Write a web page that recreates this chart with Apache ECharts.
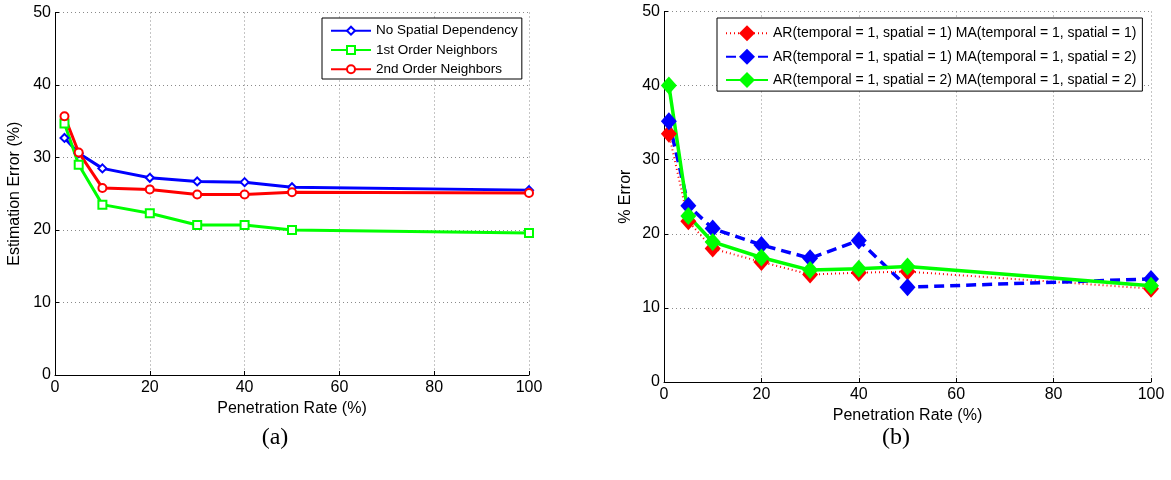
<!DOCTYPE html>
<html>
<head>
<meta charset="utf-8">
<script src="https://cdn.jsdelivr.net/npm/echarts@6/dist/echarts.min.js"></script>
<style>
html,body{margin:0;padding:0;background:#fff;}
#chart{width:1171px;height:480px;}
</style>
</head>
<body>
<div id="chart"></div>
<script>
// ---- Data: panel (a) ----
const penA = [2, 5, 10, 20, 30, 40, 50, 100];
const noSpatial = [32.7, 30.6, 28.5, 27.2, 26.7, 26.6, 25.9, 25.5];
const firstOrder = [34.7, 29.0, 23.5, 22.3, 20.7, 20.7, 20.0, 19.6];
const secondOrder = [35.7, 30.7, 25.8, 25.6, 24.9, 24.9, 25.2, 25.1];
const namesA = ['No Spatial Dependency', '1st Order Neighbors', '2nd Order Neighbors'];

// ---- Data: panel (b) ----
const penB = [1, 5, 10, 20, 30, 40, 50, 100];
const arS1maS1 = [33.5, 21.7, 18.0, 16.2, 14.5, 14.75, 14.9, 12.6];
const arS1maS2 = [35.2, 23.8, 20.7, 18.5, 16.7, 19.1, 12.8, 13.9];
const arS2maS2 = [40.0, 22.4, 18.9, 16.8, 15.1, 15.3, 15.6, 13.0];
const namesB = [
  'AR(temporal = 1, spatial = 1) MA(temporal = 1, spatial = 1)',
  'AR(temporal = 1, spatial = 1) MA(temporal = 1, spatial = 2)',
  'AR(temporal = 1, spatial = 2) MA(temporal = 1, spatial = 2)'
];

const xTicks = [0, 20, 40, 60, 80, 100];
const yTicks = [0, 10, 20, 30, 40, 50];
const xTitle = 'Penetration Rate (%)';
const yTitleA = 'Estimation Error (%)';
const yTitleB = '% Error';
const captions = ['(a)', '(b)'];

function pairs(xs, ys) { return xs.map((x, i) => [x, ys[i]]); }

const FONT = 'Liberation Sans, Arial, sans-serif';
const SERIF = 'Liberation Serif, DejaVu Serif, serif';
const gridLine = { show: true, lineStyle: { color: '#8a8a8a', type: [1, 3], width: 1 } };

function xAxis(gridIndex, gap) {
  return {
    type: 'value', gridIndex, min: 0, max: 100, interval: 20,
    name: xTitle, nameLocation: 'middle', nameGap: gap,
    nameTextStyle: { fontFamily: FONT, fontSize: 16, color: '#000' },
    axisLine: { show: true, onZero: false, lineStyle: { color: '#000', width: 1 } },
    axisTick: { show: true, inside: true, length: 4, lineStyle: { color: '#000' } },
    axisLabel: { fontFamily: FONT, fontSize: 16, color: '#000', margin: 5 },
    splitLine: gridLine
  };
}
function yAxis(gridIndex, name, gap) {
  return {
    type: 'value', gridIndex, min: 0, max: 50, interval: 10,
    name, nameLocation: 'middle', nameGap: gap, nameRotate: 90,
    nameTextStyle: { fontFamily: FONT, fontSize: 16, color: '#000' },
    axisLine: { show: true, onZero: false, lineStyle: { color: '#000', width: 1 } },
    axisTick: { show: true, inside: true, length: 4, lineStyle: { color: '#000' } },
    axisLabel: { fontFamily: FONT, fontSize: 16, color: '#000', margin: 4 },
    splitLine: gridLine
  };
}

const option = {
  animation: false,
  backgroundColor: '#fff',
  grid: [
    { left: 55, top: 12.5, width: 474, height: 362.5, containLabel: false },
    { left: 664, top: 11.5, width: 487, height: 370.5, containLabel: false }
  ],
  xAxis: [xAxis(0, 21), xAxis(1, 22)],
  yAxis: [yAxis(0, yTitleA, 32), yAxis(1, yTitleB, 30)],
  title: [
    { text: captions[0], left: 270, top: 421, textAlign: 'center',
      textStyle: { fontFamily: SERIF, fontSize: 24, fontWeight: 'normal', color: '#000' } },
    { text: captions[1], left: 891, top: 421, textAlign: 'center',
      textStyle: { fontFamily: SERIF, fontSize: 24, fontWeight: 'normal', color: '#000' } }
  ],
  legend: [
    {
      data: namesA, orient: 'vertical', left: 322, top: 18,
      itemWidth: 40, itemHeight: 10, itemGap: 5.3,
      padding: [5.7, 4, 2.7, 8],
      backgroundColor: '#fff', borderColor: '#000', borderWidth: 1, borderRadius: 0,
      textStyle: { fontFamily: FONT, fontSize: 13.5, color: '#000' }
    },
    {
      data: namesB, orient: 'vertical', left: 717, top: 18,
      itemWidth: 42, itemHeight: 20, itemGap: 7.4,
      padding: [7.3, 6, 3, 8],
      backgroundColor: '#fff', borderColor: '#000', borderWidth: 1, borderRadius: 0,
      textStyle: { fontFamily: FONT, fontSize: 14, color: '#000' }
    }
  ],
  series: [
    { name: namesA[0], type: 'line', xAxisIndex: 0, yAxisIndex: 0, data: pairs(penA, noSpatial),
      symbol: 'emptyDiamond', symbolSize: 8, color: '#0000ff',
      lineStyle: { width: 3, color: '#0000ff' }, itemStyle: { color: '#0000ff', borderWidth: 2 } },
    { name: namesA[1], type: 'line', xAxisIndex: 0, yAxisIndex: 0, data: pairs(penA, firstOrder),
      symbol: 'emptyRect', symbolSize: 8, color: '#00ff00',
      lineStyle: { width: 3, color: '#00ff00' }, itemStyle: { color: '#00ff00', borderWidth: 2 } },
    { name: namesA[2], type: 'line', xAxisIndex: 0, yAxisIndex: 0, data: pairs(penA, secondOrder),
      symbol: 'emptyCircle', symbolSize: 8, color: '#ff0000',
      lineStyle: { width: 3, color: '#ff0000' }, itemStyle: { color: '#ff0000', borderWidth: 2 } },

    { name: namesB[0], type: 'line', xAxisIndex: 1, yAxisIndex: 1, data: pairs(penB, arS1maS1),
      symbol: 'diamond', symbolSize: [16, 18], color: '#ff0000',
      lineStyle: { width: 2, color: '#ff0000', type: [1, 3] }, itemStyle: { color: '#ff0000' } },
    { name: namesB[1], type: 'line', xAxisIndex: 1, yAxisIndex: 1, data: pairs(penB, arS1maS2),
      symbol: 'diamond', symbolSize: [16, 18], color: '#0000ff',
      lineStyle: { width: 3.5, color: '#0000ff', type: [10, 6] }, itemStyle: { color: '#0000ff' } },
    { name: namesB[2], type: 'line', xAxisIndex: 1, yAxisIndex: 1, data: pairs(penB, arS2maS2),
      symbol: 'diamond', symbolSize: [16, 18], color: '#00ff00',
      lineStyle: { width: 3.5, color: '#00ff00' }, itemStyle: { color: '#00ff00' } }
  ]
};

const chart = echarts.init(document.getElementById('chart'), null, { renderer: 'canvas' });
chart.setOption(option);
</script>
</body>
</html>
